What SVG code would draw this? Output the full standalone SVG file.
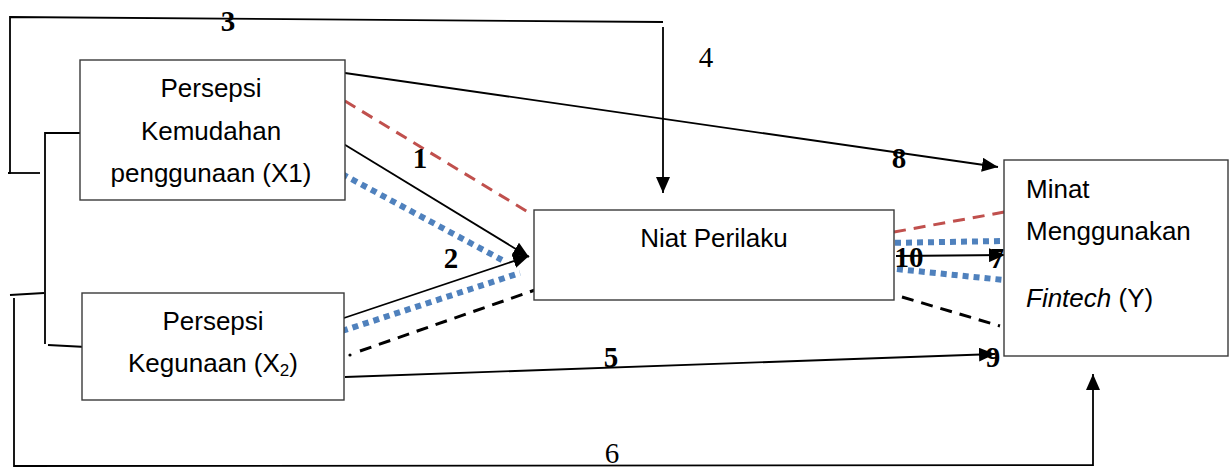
<svg xmlns="http://www.w3.org/2000/svg" width="1229" height="470" viewBox="0 0 1229 470">
<style>
.box{fill:#fff;stroke:#3a3a3a;stroke-width:1.4}
.t{font-family:"Liberation Sans",Arial,sans-serif;font-size:26px;fill:#000}
.n{font-family:"Liberation Serif","Times New Roman",serif;font-size:29px;font-weight:bold;fill:#000}
.nr{font-family:"Liberation Serif","Times New Roman",serif;font-size:29px;fill:#000}
.ln{fill:none;stroke:#000;stroke-width:1.8}
.red{fill:none;stroke:#C0504D;stroke-width:3;stroke-dasharray:12 8}
.blue{fill:none;stroke:#4F81BD;stroke-width:6;stroke-dasharray:6 5}
.bd{fill:none;stroke:#000;stroke-width:3;stroke-dasharray:12 8}
</style>
<defs>
<marker id="ah" markerUnits="userSpaceOnUse" markerWidth="16" markerHeight="14" viewBox="0 0 16 14" refX="16" refY="7" orient="auto">
<path d="M0,0 L16,7 L0,14 z" fill="#000"/>
</marker>
</defs>
<g id="connectors">
<polyline class="ln" points="8,173 10,173 10,17 663,22"/>
<line class="ln" x1="10" y1="173" x2="40" y2="173"/>
<line class="ln" x1="663" y1="27" x2="663" y2="193" marker-end="url(#ah)"/>
<polyline class="ln" points="80,133 45,133 45,344"/>
<line class="ln" x1="48" y1="345" x2="86" y2="347"/>
<line class="ln" x1="10" y1="295" x2="44" y2="293"/>
<polyline class="ln" points="14,298 14,466 1093,465 1093,374" marker-end="url(#ah)"/>
<line class="ln" x1="345" y1="73" x2="998" y2="167" marker-end="url(#ah)"/>
<line class="ln" x1="342" y1="143" x2="529" y2="257" marker-end="url(#ah)"/>
<line class="ln" x1="338" y1="320" x2="529" y2="256" marker-end="url(#ah)"/>
<line class="ln" x1="345" y1="377" x2="995" y2="354" marker-end="url(#ah)"/>
<line class="red" x1="345" y1="101" x2="528" y2="212"/>
<line class="blue" x1="342" y1="174" x2="502" y2="260"/>
<line class="blue" x1="342" y1="331" x2="520" y2="273"/>
<circle cx="350" cy="355" r="1.6" fill="#000"/>
<line class="bd" x1="360" y1="351" x2="535" y2="290"/>
<line class="red" x1="894" y1="232" x2="1010" y2="211"/>
<line class="blue" x1="884" y1="243" x2="1004" y2="241"/>
<line class="ln" x1="896" y1="256" x2="1005" y2="255" marker-end="url(#ah)"/>
<line class="blue" x1="886" y1="268" x2="1004" y2="280"/>
<line class="bd" x1="902" y1="297" x2="1000" y2="326"/>
<text class="n" x="228" y="31" text-anchor="middle">3</text>
<text class="nr" x="706" y="67" text-anchor="middle">4</text>
<text class="n" x="420" y="168" text-anchor="middle">1</text>
<text class="n" x="899" y="168" text-anchor="middle">8</text>
<text class="n" x="451" y="268" text-anchor="middle">2</text>
<text class="n" x="909" y="267" text-anchor="middle">10</text>
<text class="n" x="997" y="268" text-anchor="middle">7</text>
<text class="n" x="611" y="367" text-anchor="middle">5</text>
<text class="n" x="993" y="367" text-anchor="middle">9</text>
<text class="nr" x="612" y="463" text-anchor="middle">6</text>
</g>
<g id="x1">
<rect class="box" x="80" y="60" width="265" height="140"/>
<text class="t" x="211" y="97" text-anchor="middle">Persepsi</text>
<text class="t" x="211" y="140" text-anchor="middle">Kemudahan</text>
<text class="t" x="211" y="182" text-anchor="middle">penggunaan (X1)</text>
</g>
<g id="x2">
<rect class="box" x="82" y="293" width="262" height="107"/>
<text class="t" x="213" y="330" text-anchor="middle">Persepsi</text>
<text class="t" x="213" y="372" text-anchor="middle">Kegunaan (X<tspan font-size="17" dy="4">2</tspan><tspan dy="-4">)</tspan></text>
</g>
<g id="niat">
<rect class="box" x="534" y="210" width="360" height="90"/>
<text class="t" x="714" y="247" text-anchor="middle">Niat Perilaku</text>
</g>
<g id="y">
<rect class="box" x="1004" y="160" width="224" height="196"/>
<text class="t" x="1026" y="198">Minat</text>
<text class="t" x="1026" y="240">Menggunakan</text>
<text class="t" x="1026" y="307"><tspan font-style="italic">Fintech</tspan> (Y)</text>
</g>
</svg>
